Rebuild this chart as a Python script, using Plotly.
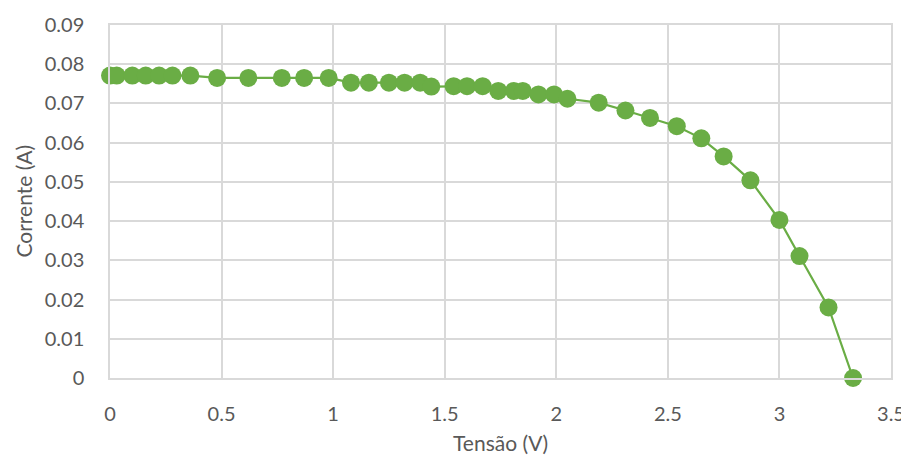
import plotly.graph_objects as go

tensao = [0.0, 0.03, 0.10, 0.16, 0.22, 0.28, 0.36, 0.48, 0.62, 0.77, 0.87, 0.98,
          1.08, 1.16, 1.25, 1.32, 1.39, 1.44, 1.54, 1.60, 1.67, 1.74, 1.81, 1.85,
          1.92, 1.99, 2.05, 2.19, 2.31, 2.42, 2.54, 2.65, 2.75, 2.87, 3.00, 3.09,
          3.22, 3.33]
corrente = [0.0771, 0.0771, 0.0771, 0.0771, 0.0771, 0.0771, 0.0771, 0.0765, 0.0765,
            0.0765, 0.0765, 0.0765, 0.0753, 0.0753, 0.0753, 0.0753, 0.0753, 0.0743,
            0.0744, 0.0744, 0.0744, 0.0732, 0.0732, 0.0732, 0.0723, 0.0723, 0.0712,
            0.0702, 0.0682, 0.0663, 0.0642, 0.0611, 0.0565, 0.0504, 0.0403, 0.0311,
            0.0180, 0.0]

x_ticks = [0, 0.5, 1, 1.5, 2, 2.5, 3, 3.5]
y_ticks = [0, 0.01, 0.02, 0.03, 0.04, 0.05, 0.06, 0.07, 0.08, 0.09]

green = "#6AAD45"
grid = "#D9D9D9"
text_col = "#595959"
font_family = "Lato, 'Open Sans', sans-serif"

# page body has an 8px margin, so the figure is sized/offset to compensate
W, H = 901, 450
ML, MR, MT, MB = 102, 18, 17, 80
pw, ph = W - ML - MR, H - MT - MB

fig = go.Figure()
fig.add_trace(go.Scatter(
    x=tensao, y=corrente, mode="lines+markers",
    line=dict(color=green, width=2.2),
    marker=dict(color=green, size=18),
    cliponaxis=False, showlegend=False,
))

fig.update_layout(
    width=W, height=H,
    margin=dict(l=ML, r=MR, t=MT, b=MB),
    paper_bgcolor="white", plot_bgcolor="white",
    font=dict(family=font_family, color=text_col, size=20),
    xaxis=dict(
        range=[0, 3.5], tickvals=x_ticks, ticktext=[f"{v:g}" for v in x_ticks],
        showgrid=True, gridcolor=grid, gridwidth=1.5, automargin=False,
        zeroline=False, showline=True, linecolor=grid, linewidth=1.5, mirror=True,
        ticks="outside", ticklen=17, tickcolor="rgba(0,0,0,0)",
    ),
    yaxis=dict(
        range=[0, 0.09], tickvals=y_ticks, ticktext=[f"{v:g}" for v in y_ticks],
        showgrid=True, gridcolor=grid, gridwidth=1.5, automargin=False,
        zeroline=False, showline=True, linecolor=grid, linewidth=1.5, mirror=True,
        ticks="outside", ticklen=20, tickcolor="rgba(0,0,0,0)",
    ),
    annotations=[
        dict(text="Tensão (V)", xref="paper", yref="paper",
             x=0.5, y=-64 / ph, xanchor="center", yanchor="middle",
             showarrow=False, font=dict(size=21, color=text_col)),
        dict(text="Corrente (A)", xref="paper", yref="paper",
             x=(23 - 110) / pw, y=0.5, xanchor="center", yanchor="middle",
             textangle=-90, showarrow=False, font=dict(size=21, color=text_col)),
    ],
)

fig.write_html("out.html")
